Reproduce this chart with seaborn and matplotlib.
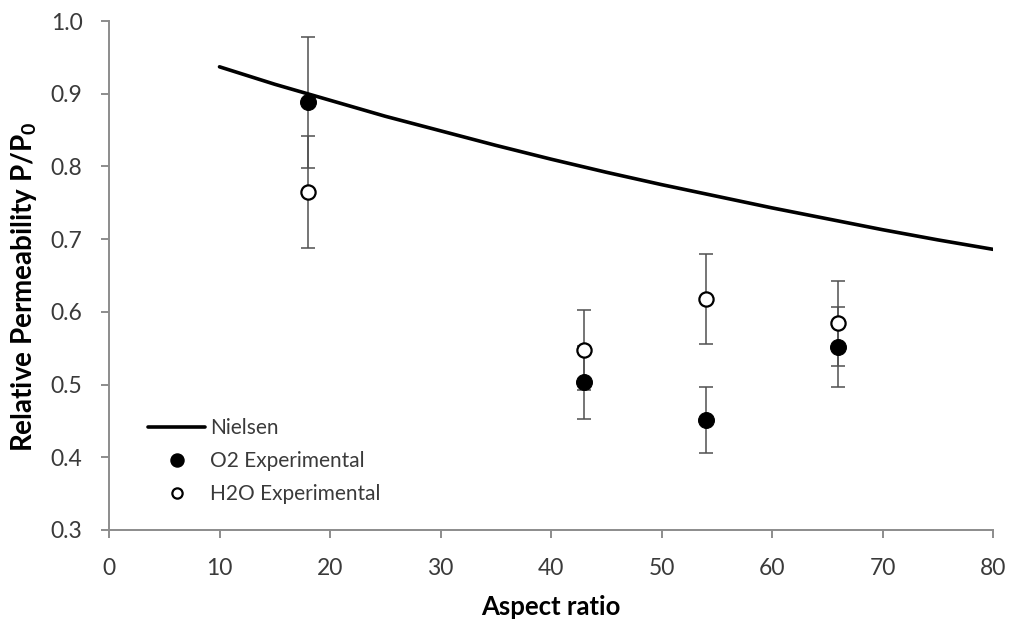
import matplotlib
matplotlib.use("Agg")
import matplotlib.pyplot as plt
import seaborn as sns
import pandas as pd
from matplotlib.lines import Line2D

# ---- data ----
nielsen_x = [10, 15, 20, 25, 30, 35, 40, 45, 50, 55, 60, 65, 70, 75, 80]
nielsen_y = [0.937, 0.913, 0.891, 0.869, 0.849, 0.829, 0.810, 0.792,
             0.775, 0.759, 0.743, 0.728, 0.713, 0.699, 0.686]

aspect = [18, 43, 54, 66]
o2_val = [0.888, 0.503, 0.451, 0.551]
o2_err = [0.090, 0.050, 0.045, 0.055]
h2o_val = [0.765, 0.548, 0.618, 0.584]
h2o_err = [0.077, 0.055, 0.062, 0.058]

x_ticks = [0, 10, 20, 30, 40, 50, 60, 70, 80]
y_ticks = [0.3, 0.4, 0.5, 0.6, 0.7, 0.8, 0.9, 1.0]

sns.set_theme(style="ticks")
plt.rcParams['font.family'] = ['Lato', 'DejaVu Sans']

fig = plt.figure(figsize=(10.10, 6.19), dpi=100)
ax = fig.add_axes([109/1010, 1 - 530/619, (993-109)/1010, (530-21)/619])

df_n = pd.DataFrame({"x": nielsen_x, "y": nielsen_y})
df_o2 = pd.DataFrame({"x": aspect, "y": o2_val})
df_h2o = pd.DataFrame({"x": aspect, "y": h2o_val})

err_color = "#505050"
ax.errorbar(aspect, o2_val, yerr=o2_err, fmt="none", ecolor=err_color,
            elinewidth=1.1, capsize=5, capthick=1.1, zorder=2)
ax.errorbar(aspect, h2o_val, yerr=h2o_err, fmt="none", ecolor=err_color,
            elinewidth=1.1, capsize=5, capthick=1.1, zorder=2)

sns.lineplot(data=df_n, x="x", y="y", ax=ax, color="black", linewidth=2.6,
             zorder=3, legend=False)
sns.scatterplot(data=df_o2, x="x", y="y", ax=ax, color="black", s=130,
                edgecolor="black", linewidth=0.8, zorder=4, legend=False)
sns.scatterplot(data=df_h2o, x="x", y="y", ax=ax, color="white", s=105,
                edgecolor="black", linewidth=1.6, zorder=4, legend=False)

ax.set_xlim(0, 80)
ax.set_ylim(0.3, 1.0)
ax.set_xticks(x_ticks)
ax.set_yticks(y_ticks)
ax.set_xticklabels([str(v) for v in x_ticks])
ax.set_yticklabels([f"{v:.1f}" for v in y_ticks])

spine_color = "#8c8c8c"
for side in ["top", "right"]:
    ax.spines[side].set_visible(False)
for side in ["left", "bottom"]:
    ax.spines[side].set_color(spine_color)
    ax.spines[side].set_linewidth(1.4)
ax.tick_params(axis="both", colors=spine_color, length=6, width=1.4,
               labelsize=16.5, labelcolor="#3a3a3a")
ax.tick_params(axis="y", pad=13)
ax.tick_params(axis="x", pad=14.5)

ax.set_xlabel("Aspect ratio", fontsize=18.5, fontweight="bold", color="black")
ax.set_ylabel(r"Relative Permeability P/P$_\mathregular{0}$", fontsize=20,
              fontweight="bold", color="black")
ax.xaxis.set_label_coords(0.5, -0.128)
ax.yaxis.set_label_coords(-0.079, 0.478)

handles = [
    Line2D([0], [0], color="black", linewidth=2.6),
    Line2D([0], [0], marker="o", linestyle="none", markerfacecolor="black",
           markeredgecolor="black", markersize=9.4),
    Line2D([0], [0], marker="o", linestyle="none", markerfacecolor="white",
           markeredgecolor="black", markeredgewidth=1.6, markersize=7.4),
]
labels = ["Nielsen", "O2 Experimental", "H2O Experimental"]
leg = fig.legend(handles, labels, loc="upper left",
                 bbox_to_anchor=(148/1010, 1 - 418/619), frameon=False,
                 fontsize=15, handlelength=2.75, handletextpad=0.25,
                 labelspacing=0.62, borderpad=0.0, borderaxespad=0.0,
                 labelcolor="#3a3a3a")

fig.savefig("out.png", dpi=100)
